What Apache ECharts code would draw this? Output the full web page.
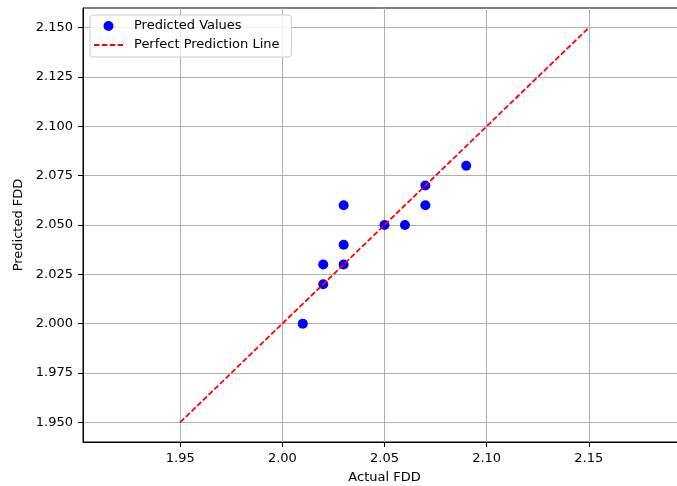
<!DOCTYPE html>
<html>
<head>
<meta charset="utf-8">
<script src="https://cdn.jsdelivr.net/npm/echarts@6/dist/echarts.min.js"></script>
<style>
html,body{margin:0;padding:0;background:#fff;overflow:hidden;}
#chart{width:677px;height:486px;}
</style>
</head>
<body>
<div id="chart"></div>
<script>
// Data
var actualFDD    = [2.01, 2.02, 2.02, 2.03, 2.03, 2.03, 2.05, 2.06, 2.07, 2.07, 2.09];
var predictedFDD = [2.00, 2.02, 2.03, 2.03, 2.04, 2.06, 2.05, 2.05, 2.07, 2.06, 2.08];
var perfectLineX = [1.95, 2.15];
var perfectLineY = [1.95, 2.15];
var xTicks = [1.95, 2.00, 2.05, 2.10, 2.15];
var yTicks = [1.950, 1.975, 2.000, 2.025, 2.050, 2.075, 2.100, 2.125, 2.150];
var seriesNames = ['Predicted Values', 'Perfect Prediction Line'];
var xTitle = 'Actual FDD';
var yTitle = 'Predicted FDD';

var scatterData = actualFDD.map(function (x, i) { return [x, predictedFDD[i]]; });
var lineData = perfectLineX.map(function (x, i) { return [x, perfectLineY[i]]; });

var FONT = 'DejaVu Sans';
var chart = echarts.init(document.getElementById('chart'), null, {renderer: 'canvas'});
chart.setOption({
  animation: false,
  backgroundColor: '#ffffff',
  textStyle: {fontFamily: FONT},
  grid: {
    left: 83, top: 8, width: 603, height: 434,
    outerBoundsMode: 'none', containLabel: false,
    show: true, borderColor: '#000000', borderWidth: 1, backgroundColor: 'transparent'
  },
  legend: {
    left: 90, top: 15, orient: 'vertical',
    itemWidth: 29, itemHeight: 10, itemGap: 5,
    padding: [4, 12, 5, 3],
    backgroundColor: 'rgba(255,255,255,0.8)',
    borderColor: '#cccccc', borderWidth: 1, borderRadius: 3,
    textStyle: {fontFamily: FONT, fontSize: 13, color: '#000', lineHeight: 14, padding: [0, 0, 0, 6]},
    data: [
      {name: seriesNames[0]},
      {name: seriesNames[1], itemStyle: {color: 'rgba(0,0,0,0)', borderWidth: 0}}
    ]
  },
  xAxis: {
    type: 'value', min: 1.9024, max: 2.1976,
    name: xTitle, nameLocation: 'middle', nameGap: 29,
    nameTextStyle: {fontFamily: FONT, fontSize: 13, color: '#000'},
    axisLine: {show: true, onZero: false, lineStyle: {color: '#000', width: 1}},
    axisTick: {show: true, length: 5, lineStyle: {color: '#000', width: 1}, customValues: xTicks},
    axisLabel: {fontFamily: FONT, fontSize: 13, color: '#000', margin: 10, customValues: xTicks,
      formatter: function (v) { return v.toFixed(2); }},
    splitLine: {show: true, lineStyle: {color: '#b0b0b0', width: 1}}
  },
  yAxis: {
    type: 'value', min: 1.9400, max: 2.1600,
    name: yTitle, nameLocation: 'middle', nameGap: 51, nameRotate: 90,
    nameTextStyle: {fontFamily: FONT, fontSize: 13, color: '#000'},
    axisLine: {show: true, onZero: false, lineStyle: {color: '#000', width: 1}},
    axisTick: {show: true, length: 5, lineStyle: {color: '#000', width: 1}, customValues: yTicks},
    axisLabel: {fontFamily: FONT, fontSize: 13, color: '#000', margin: 10, customValues: yTicks,
      formatter: function (v) { return v.toFixed(3); }},
    splitLine: {show: true, lineStyle: {color: '#b0b0b0', width: 1}}
  },
  series: [
    {
      name: seriesNames[0], type: 'scatter', data: scatterData,
      symbol: 'circle', symbolSize: 10,
      itemStyle: {color: '#0000ff', opacity: 1}, z: 3
    },
    {
      name: seriesNames[1], type: 'line', data: lineData,
      symbol: 'none', showSymbol: false,
      lineStyle: {color: '#ff0000', width: 1.8, type: [5.5, 2.4]},
      itemStyle: {color: '#ff0000'}, z: 4
    }
  ]
});
</script>
</body>
</html>
